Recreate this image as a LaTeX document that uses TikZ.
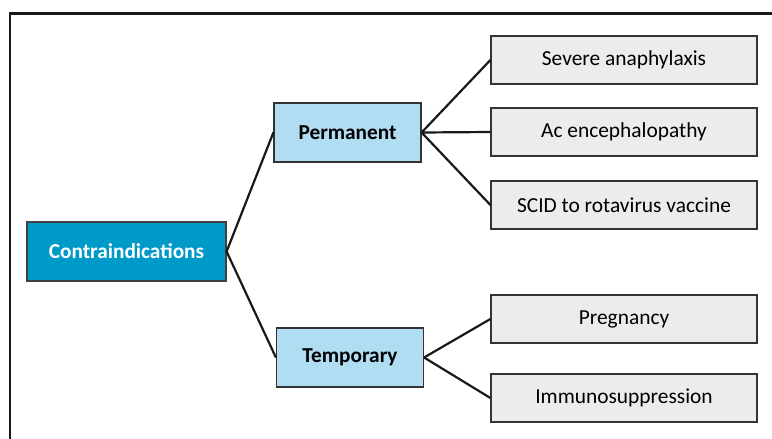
\documentclass[tikz,border=0pt]{standalone}
\usepackage{fontspec}
\setmainfont{Carlito}
\definecolor{rootblue}{RGB}{0,154,200}
\definecolor{groupblue}{RGB}{176,221,242}
\definecolor{leafgray}{RGB}{236,236,235}
\tikzset{
  rootnode/.style={draw=black!75, line width=1.2pt, fill=rootblue, text=white, font=\bfseries\fontsize{21.3}{25}\selectfont, minimum width=199pt, minimum height=59pt, inner sep=0pt},
  groupnode/.style={draw=black!80, line width=1.2pt, fill=groupblue, font=\bfseries\fontsize{21.3}{25}\selectfont, minimum width=147pt, minimum height=59pt, inner sep=0pt},
  leafnode/.style={draw=black!80, line width=1.2pt, fill=leafgray, font=\fontsize{21.4}{25}\selectfont, minimum width=266pt, minimum height=48pt, inner sep=0pt},
  link/.style={line width=2.2pt, black!90},
}

\begin{document}
\begin{tikzpicture}[x=1pt, y=-1pt]
\useasboundingbox (0,0) rectangle (772,439);
%outer frame, cut at the right and bottom
\draw[line width=2.5pt, black!90] (772,13.5) -- (10,13.5) -- (10,439);

%%root and the two groups
\node[rootnode]  (contra) at (126.5,251.5) {Contraindications};
\node[groupnode] (perm)   at (347.5,132.5) {Permanent};
\node[groupnode] (temp)   at (350,357.5)   {Temporary};
\draw[link] (perm.west) -- (contra.east) -- (temp.west);

%%leaves
\foreach \Name/\Y/\Parent/\Text in {%
    anaph/60/perm/{Severe anaphylaxis},
    enceph/132/perm/{Ac encephalopathy},
    scid/205/perm/{SCID to rotavirus vaccine},
    preg/319/temp/{Pregnancy},
    immuno/398/temp/{Immunosuppression}}{
  \node[leafnode] (\Name) at (624,\Y) {\Text};
  \draw[link] (\Parent.east) -- (\Name.west);
}
\end{tikzpicture}
\end{document}
